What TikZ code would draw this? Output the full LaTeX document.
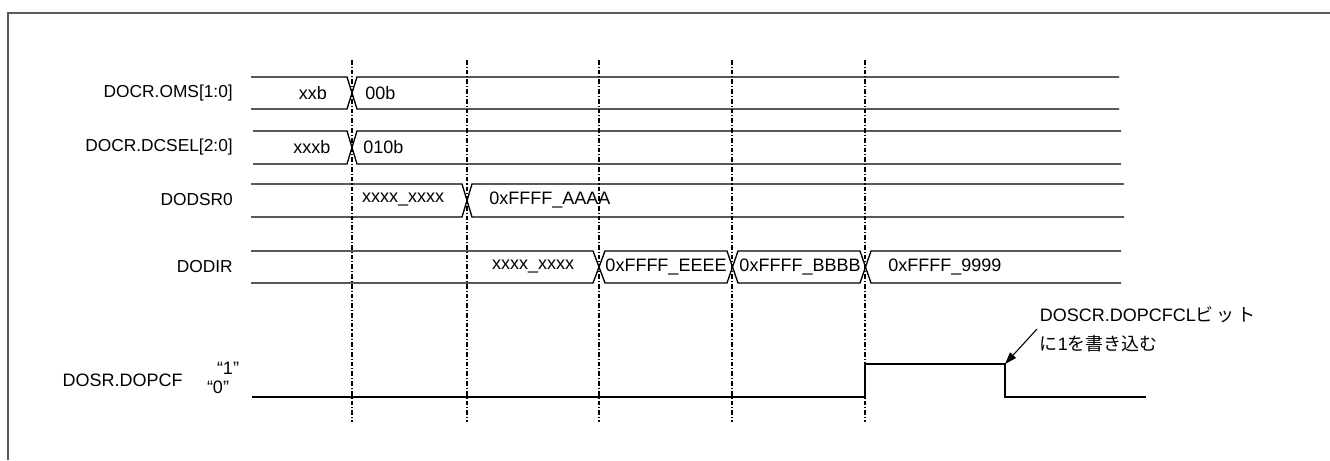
\documentclass[tikz,border=0pt]{standalone}
\usepackage{fontspec}
\setmainfont{Liberation Sans}
\newfontfamily\jpfont{Noto Sans CJK JP}
\usetikzlibrary{arrows.meta}
\definecolor{framegray}{HTML}{5A5A5A}
\tikzset{
  wave/.style={line width=1pt, draw=black},
  guide/.style={line width=0.9pt, dash pattern=on 3.5pt off 1.5pt on 0.8pt off 1.5pt},
  sig/.style={anchor=east, font=\fontsize{13}{16}\selectfont, inner sep=0pt},
  val/.style={font=\fontsize{13.5}{16}\selectfont, inner sep=0pt},
  arr/.style={-{Triangle[length=9pt,width=6pt]}, line width=0.8pt},
}
\begin{document}
\begin{tikzpicture}[x=0.75pt, y=-0.75pt]
    \useasboundingbox (0,0) rectangle (1330,460);
    % frame
    \draw[framegray, line width=1pt] (8,460) -- (8,13) -- (1330,13);
    % timing guides
    \foreach \t in {352,467,599,732,865}
      \draw[guide] (\t,60) -- (\t,422);
    % signal names
    \node[sig] (oms) at (233,93) {DOCR.OMS[1:0]};
    \node[sig] (dcsel) at (233,147) {DOCR.DCSEL[2:0]};
    \node[sig] (dodsr) at (233,200) {DODSR0};
    \node[sig] (dodir) at (233,267) {DODIR};
    \node[sig, font=\fontsize{13.5}{16}\selectfont] (dopcf) at (183,380) {DOSR.DOPCF};
    \node[val] (hi) at (228,368) {“1”};
    \node[val] (lo) at (218,387) {“0”};
    % DOCR.OMS
    \draw[wave] (251,77) -- (347,77) -- (357,109) -- (1119,109);
    \draw[wave] (251,109) -- (347,109) -- (357,77) -- (1119,77);
    \node[val] (omsa) at (313,93) {xxb};
    \node[val, anchor=west] (omsb) at (365,93) {00b};
    % DOCR.DCSEL
    \draw[wave] (253,131) -- (347,131) -- (357,164) -- (1121,164);
    \draw[wave] (253,164) -- (347,164) -- (357,131) -- (1121,131);
    \node[val] (dcsela) at (312,147) {xxxb};
    \node[val, anchor=west] (dcselb) at (363,147) {010b};
    % DODSR0
    \draw[wave] (251,184) -- (462,184) -- (472,217) -- (1124,217);
    \draw[wave] (251,217) -- (462,217) -- (472,184) -- (1124,184);
    \node[val] (dodsra) at (403,200) {xxxx\_xxxx};
    \node[val, anchor=west] (dodsrb) at (489,200) {0xFFFF\_AAAA};
    % DODIR
    \draw[wave] (251,251) -- (593,251) -- (605,283) -- (727,283) -- (738,251) -- (860,251) -- (871,283) -- (1121,283);
    \draw[wave] (251,283) -- (593,283) -- (605,251) -- (727,251) -- (738,283) -- (860,283) -- (871,251) -- (1121,251);
    \node[val] (dodira) at (533,267) {xxxx\_xxxx};
    \node[val] (dodirb) at (666,267) {0xFFFF\_EEEE};
    \node[val] (dodirc) at (800,267) {0xFFFF\_BBBB};
    \node[val, anchor=west] (dodird) at (888,267) {0xFFFF\_9999};
    % DOSR.DOPCF
    \draw[wave] (252,397) -- (865,397) -- (865,364) -- (1005,364) coordinate (fall) -- (1005,397) -- (1146,397);
    \node[val, anchor=west, align=left, inner sep=2pt, font=\fontsize{13.5}{22}\selectfont] (note) at (1037,329)
      {DOSCR.DOPCFCL{\jpfont ビ\,ッ\,ト}\\{\jpfont に}1{\jpfont を書き込む}};
    \draw[arr] (note.west) -- (fall);
\end{tikzpicture}
\end{document}
